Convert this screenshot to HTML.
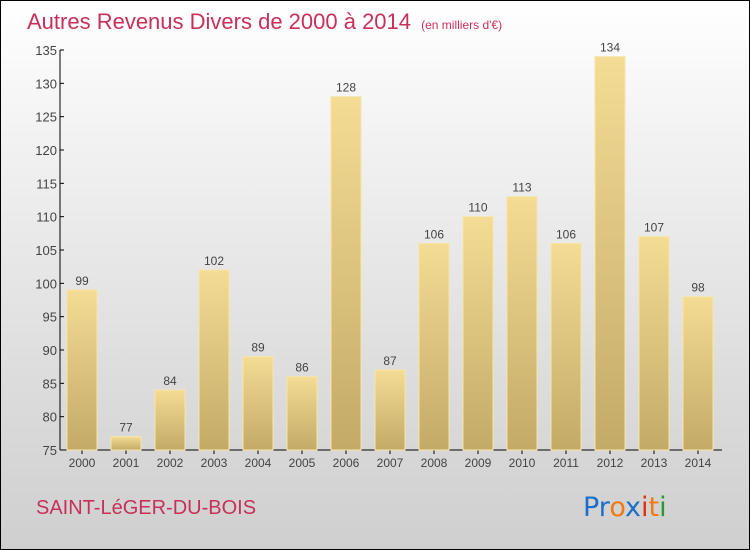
<!DOCTYPE html>
<html><head><meta charset="utf-8"><style>
body{margin:0}
#c{width:750px;height:550px;position:relative;box-sizing:border-box;border:1px solid #000;background:linear-gradient(#ffffff,#f2f2f2 25%,#dcdcdc 70%,#cfcfcf);font-family:"Liberation Sans",sans-serif;overflow:hidden}
</style></head><body>
<div id="c">
<svg width="750" height="550" style="position:absolute;left:-1px;top:-1px">
<defs><linearGradient id="bg" x1="0" y1="0" x2="0" y2="1"><stop offset="0" stop-color="#f4dc94"/><stop offset="1" stop-color="#c3aa67"/></linearGradient></defs>
<text x="27" y="29" font-size="22" fill="#c8305a">Autres Revenus Divers de 2000 à 2014 <tspan font-size="12" dx="4">(en milliers d'€)</tspan></text>
<g id="ax"></g><g id="bars"></g>
<text x="36" y="514" font-size="20" fill="#c8305a">SAINT-LéGER-DU-BOIS</text>
<text x="583" y="516" font-size="27" font-family="'DejaVu Sans',sans-serif"><tspan fill="#1a6fc8">Pr</tspan><tspan fill="#f07a10">o</tspan><tspan fill="#1a6fc8">x</tspan><tspan fill="#e03010">i</tspan><tspan fill="#f07a10">t</tspan><tspan fill="#2a9a30">i</tspan></text>
</svg></div>
<script>
const years=["2000","2001","2002","2003","2004","2005","2006","2007","2008","2009","2010","2011","2012","2013","2014"];
const values=[99,77,84,102,89,86,128,87,106,110,113,106,134,107,98];
const yTicks=[75,80,85,90,95,100,105,110,115,120,125,130,135];
const NS="http://www.w3.org/2000/svg";
const y=v=>450-(v-75)*400/60, x=i=>82+44*i;
function mk(t,a,p,txt){const e=document.createElementNS(NS,t);for(const k in a)e.setAttribute(k,a[k]);if(txt!=null)e.textContent=txt;p.appendChild(e);return e;}
const ax=document.getElementById('ax'),bars=document.getElementById('bars');
let l=mk('line',{x1:60,y1:50,x2:60,y2:450,stroke:'#000'},ax);


l=mk('line',{x1:60,y1:450,x2:722,y2:450,stroke:'#000'},ax);


yTicks.forEach(v=>{
 mk('line',{x1:60,y1:y(v),x2:64,y2:y(v),stroke:'#000'},ax);
 const t=mk('text',{x:57,y:y(v)+5,'text-anchor':'end','font-size':13,fill:'#444'},ax,v);
 
 
});
years.forEach((yr,i)=>{
 mk('line',{x1:x(i),y1:450,x2:x(i),y2:454,stroke:'#000'},ax);
 const t=mk('text',{x:x(i),y:467,'text-anchor':'middle','font-size':12,fill:'#444'},ax,yr);
 
 
 const r=mk('rect',{x:x(i)-15,y:y(values[i]),width:30,height:450-y(values[i]),fill:'url(#bg)',stroke:'#f6e6a6','stroke-width':1},bars);
 
 
 const lb=mk('text',{x:x(i),y:y(values[i])-5,'text-anchor':'middle','font-size':12,fill:'#444'},bars,values[i]);
 
 
});
</script>
</body></html>
